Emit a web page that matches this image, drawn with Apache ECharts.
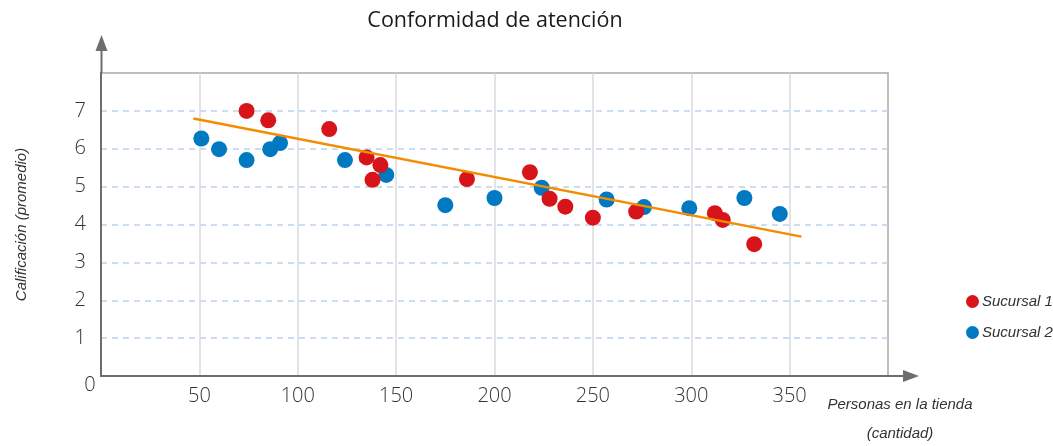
<!DOCTYPE html>
<html><head><meta charset="utf-8">
<script src="https://cdn.jsdelivr.net/npm/echarts@6/dist/echarts.min.js"></script>
<style>html,body{margin:0;padding:0;background:#fff}#c{width:1053px;height:446px}</style>
</head><body><div id="c"></div>
<script>
const title = 'Conformidad de atención';
const xName = 'Personas en la tienda\n(cantidad)';
const yName = 'Calificación (promedio)';
const seriesNames = ['Sucursal 1', 'Sucursal 2'];
const s1X = [74, 85, 116, 135, 138, 142, 186, 218, 228, 236, 250, 272, 312, 316, 332];
const s1Y = [7.0, 6.75, 6.52, 5.77, 5.18, 5.57, 5.2, 5.38, 4.68, 4.47, 4.18, 4.34, 4.3, 4.12, 3.48];
const s2X = [51, 60, 74, 86, 91, 124, 145, 175, 200, 224, 257, 276, 299, 327, 345];
const s2Y = [6.27, 5.99, 5.7, 5.99, 6.15, 5.7, 5.31, 4.51, 4.7, 4.97, 4.66, 4.46, 4.43, 4.7, 4.28];
const trendX = [47, 356];
const trendY = [6.8, 3.68];

const zip = (a, b) => a.map((v, i) => [v, b[i]]);
const chart = echarts.init(document.getElementById('c'));
const axisCol = '#6d6d6d';
const sans = '"Open Sans", sans-serif';
const ital = '"Liberation Sans", Arial, sans-serif';
chart.setOption({
  animation: false,
  title: { text: title, left: 490, textAlign: 'center', top: 5, textStyle: { fontFamily: sans, fontSize: 21.5, fontWeight: 'normal', color: '#1a1a1a' } },
  grid: { left: 101, right: 165, top: 73, bottom: 70, show: true, borderColor: '#a9a9a9', borderWidth: 1.5, outerBoundsMode: 'none', containLabel: false },
  legend: {
    data: seriesNames, orient: 'vertical', left: 961, top: 289, itemGap: 16,
    icon: 'circle', itemWidth: 13, itemHeight: 13, itemStyle: { borderWidth: 0 },
    textStyle: { fontFamily: ital, fontStyle: 'italic', fontSize: 15, color: '#333', padding: [0, 0, 0, -2] }
  },
  xAxis: {
    type: 'value', min: 0, max: 400, interval: 50,
    name: xName, nameLocation: 'end', nameGap: 12,
    nameTextStyle: { fontFamily: ital, fontStyle: 'italic', fontSize: 15, color: '#333', align: 'center', verticalAlign: 'top', lineHeight: 29, padding: [14, 0, 0, 0] },
    axisLine: { show: true, lineStyle: { color: axisCol, width: 2 } },
    axisTick: { show: false },
    axisLabel: { margin: 10, fontFamily: sans, fontWeight: 300, fontSize: 20, color: '#333', formatter: v => (v === 0 || v === 400) ? '' : v },
    splitLine: { show: true, showMinLine: false, showMaxLine: false, lineStyle: { color: '#dadada', width: 1.5 } }
  },
  yAxis: {
    type: 'value', min: 0, max: 8, interval: 1,
    name: yName, nameLocation: 'middle', nameGap: 72, nameRotate: 90,
    nameTextStyle: { fontFamily: ital, fontStyle: 'italic', fontSize: 15, color: '#333' },
    axisLine: { show: true, lineStyle: { color: axisCol, width: 2 } },
    axisTick: { show: false },
    axisLabel: { margin: 15, fontFamily: sans, fontWeight: 300, fontSize: 20, color: '#333', formatter: v => (v === 0 || v === 8) ? '' : v },
    splitLine: { show: true, showMinLine: false, showMaxLine: false, lineStyle: { color: '#bcd2f0', width: 1.5, type: [6, 5] } }
  },
  series: [
    { name: seriesNames[1], type: 'scatter', data: zip(s2X, s2Y), symbolSize: 16, itemStyle: { color: '#0079c1', opacity: 1 }, z: 3 },
    { name: seriesNames[0], type: 'scatter', data: zip(s1X, s1Y), symbolSize: 16, itemStyle: { color: '#d7141a', opacity: 1 }, z: 4 },
    { name: 'Tendencia', type: 'line', data: zip(trendX, trendY), symbol: 'none', lineStyle: { color: '#f28c00', width: 2.5 }, z: 5, silent: true }
  ],
  graphic: [
    { type: 'line', shape: { x1: 101.5, y1: 73, x2: 101.5, y2: 50 }, style: { stroke: axisCol, lineWidth: 2 } },
    { type: 'polygon', shape: { points: [[101.5, 35], [95.5, 51], [107.5, 51]] }, style: { fill: axisCol } },
    { type: 'line', shape: { x1: 888, y1: 376, x2: 904, y2: 376 }, style: { stroke: axisCol, lineWidth: 2 } },
    { type: 'polygon', shape: { points: [[919, 376], [903, 370], [903, 382]] }, style: { fill: axisCol } },
    { type: 'text', x: 90, y: 385, style: { text: '0', fontFamily: sans, fontWeight: 300, fontSize: 20, fill: '#333', align: 'center', verticalAlign: 'middle' } }
  ]
});
</script></body></html>
